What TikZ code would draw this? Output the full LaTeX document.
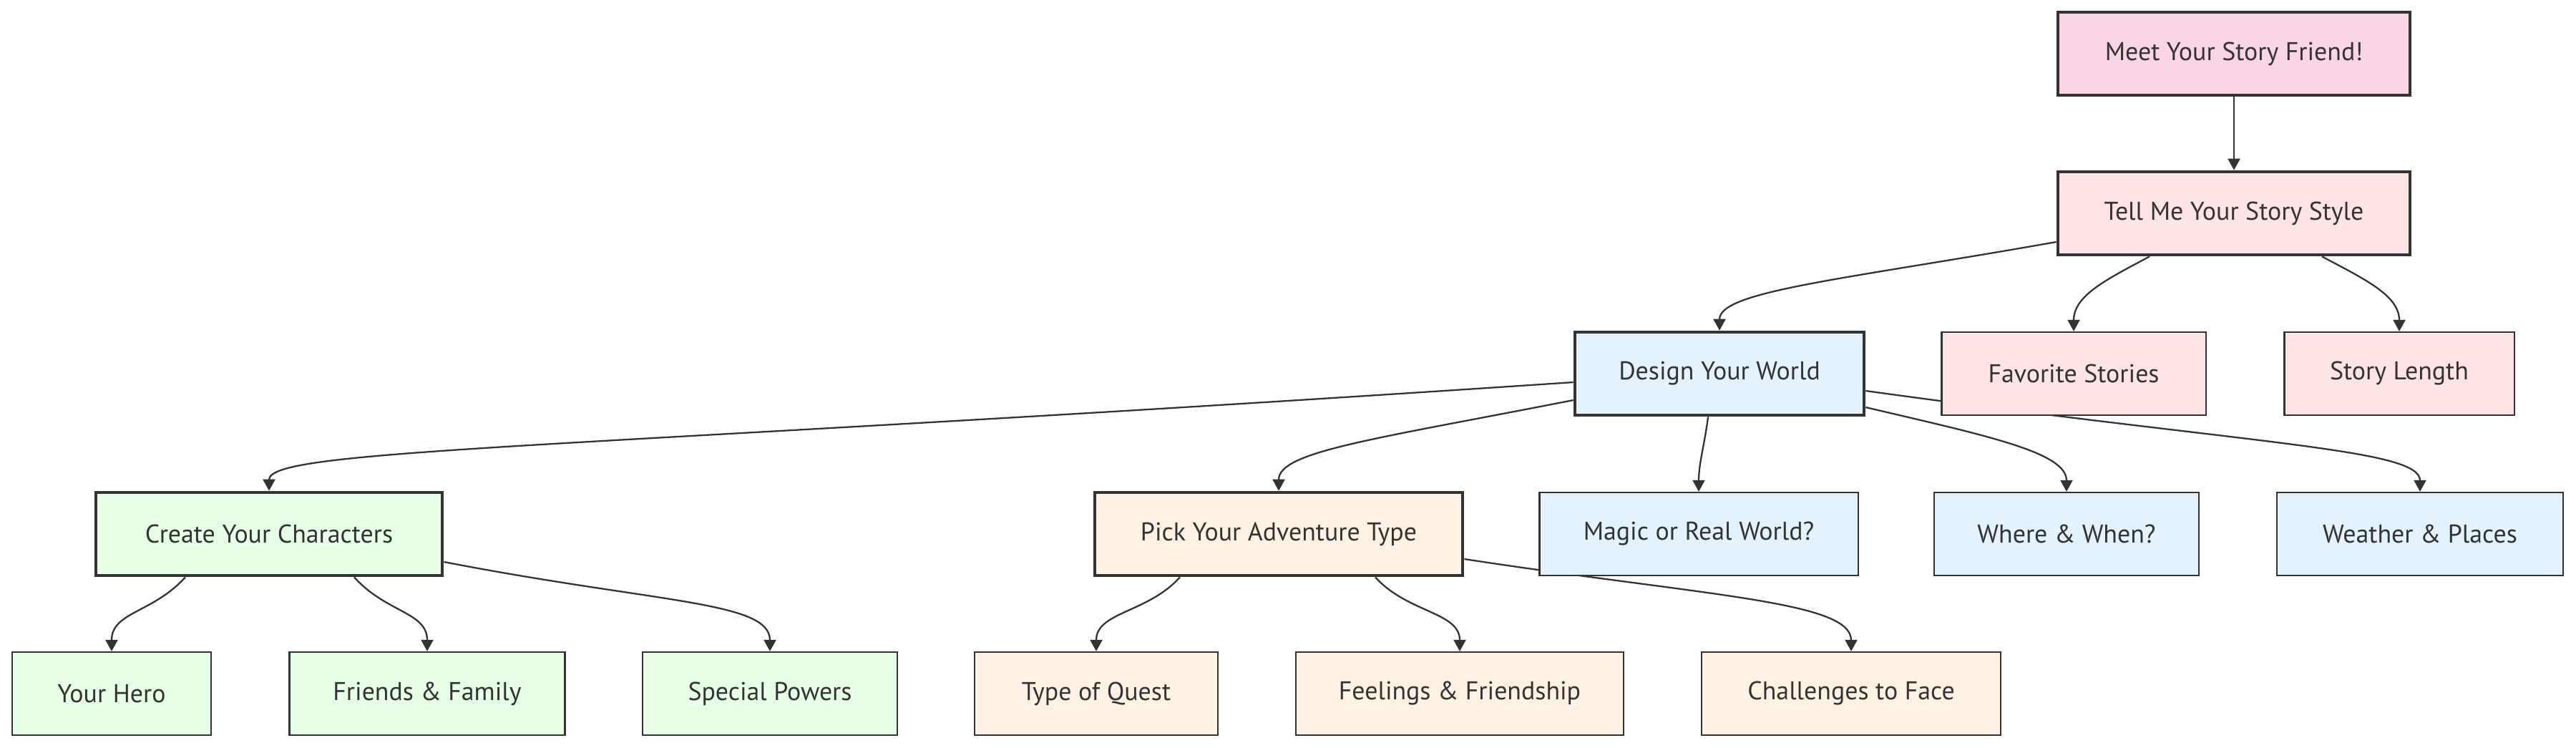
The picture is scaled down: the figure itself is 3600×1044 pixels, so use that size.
\documentclass[tikz,border=0pt]{standalone}
\usepackage{fontspec}
\setsansfont{PT Sans}
\usetikzlibrary{arrows.meta,backgrounds,calc}

\definecolor{inkgray}{HTML}{333333}
\definecolor{friendpink}{HTML}{F9D5E5}
\definecolor{stylepink}{HTML}{FFE4E6}
\definecolor{worldblue}{HTML}{E3F2FD}
\definecolor{herogreen}{HTML}{E6FFE6}
\definecolor{questpeach}{HTML}{FFF1E4}

\tikzset{
  storybox/.style={draw=inkgray, line width=0.65pt, text=inkgray, inner sep=0pt,
    minimum height=1.16cm, font=\sffamily\fontsize{10.2}{12}\selectfont},
  stepbox/.style={storybox, line width=1.3pt},
  link/.style={draw=inkgray, line width=0.65pt, -{Triangle[length=0.16cm,width=0.17cm]}},
}

\begin{document}
\begin{tikzpicture}[x=0.01cm, y=-0.01cm]
    \useasboundingbox (0,0) rectangle (3600,1044);

    %% Main steps
    \node[stepbox, fill=friendpink, minimum width=4.92cm] (meet) at (3122,75) {Meet Your Story Friend!};
    \node[stepbox, fill=stylepink, minimum width=4.92cm] (tell) at (3122,298) {Tell Me Your Story Style};
    \node[stepbox, fill=worldblue, minimum width=4.04cm] (design) at (2403,522) {Design Your World};
    \node[stepbox, fill=herogreen, minimum width=4.84cm] (create) at (376,746) {Create Your Characters};
    \node[stepbox, fill=questpeach, minimum width=5.14cm] (pick) at (1787,746) {Pick Your Adventure Type};

    %% Story style
    \node[storybox, fill=stylepink, minimum width=3.69cm] (favorite) at (2898,522) {Favorite Stories};
    \node[storybox, fill=stylepink, minimum width=3.21cm] (length) at (3353,522) {Story Length};

    %% World
    \node[storybox, fill=worldblue, minimum width=4.45cm] (magic) at (2374,746) {Magic or Real World?};
    \node[storybox, fill=worldblue, minimum width=3.70cm] (where) at (2888,746) {Where \& When?};
    \node[storybox, fill=worldblue, minimum width=4.00cm] (weather) at (3382,746) {Weather \& Places};

    %% Characters
    \node[storybox, fill=herogreen, minimum width=2.78cm] (hero) at (156,969) {Your Hero};
    \node[storybox, fill=herogreen, minimum width=3.85cm] (friends) at (597,969) {Friends \& Family};
    \node[storybox, fill=herogreen, minimum width=3.56cm] (powers) at (1076,969) {Special Powers};

    %% Adventure
    \node[storybox, fill=questpeach, minimum width=3.40cm] (quest) at (1532,969) {Type of Quest};
    \node[storybox, fill=questpeach, minimum width=4.58cm] (feelings) at (2040,969) {Feelings \& Friendship};
    \node[storybox, fill=questpeach, minimum width=4.18cm] (challenges) at (2587,969) {Challenges to Face};

    %% Connectors, behind the boxes
    \begin{scope}[on background layer]
        \draw[link] (meet) -- (tell);
        \draw[link] ($(tell.west)+(0,40)$) .. controls +(-300,53) and +(0,-55) .. (design.north);
        \draw[link] ($(tell.south)+(-118,0)$) .. controls +(-60,32) and +(0,-50) .. (favorite.north);
        \draw[link] ($(tell.south)+(123,0)$) .. controls +(60,32) and +(0,-50) .. (length.north);

        \draw[link] ($(design.west)+(0,12)$) .. controls +(-1400,94) and +(0,-60) .. (create.north);
        \draw[link] ($(design.west)+(0,37)$) .. controls +(-280,55) and +(0,-55) .. (pick.north);
        \draw[link] ($(design.south)+(-16,0)$) .. controls +(-5,40) and +(0,-40) .. (magic.north);
        \draw[link] ($(design.east)+(0,47)$) .. controls +(170,40) and +(0,-55) .. (where.north);
        \draw[link] ($(design.east)+(0,24)$) .. controls +(550,76) and +(0,-60) .. (weather.north);

        \draw[link] ($(create.south)+(-117,0)$) .. controls +(-45,50) and +(0,-55) .. (hero.north);
        \draw[link] ($(create.south)+(119,0)$) .. controls +(45,50) and +(0,-55) .. (friends.north);
        \draw[link] ($(create.east)+(0,39)$) .. controls +(300,58) and +(0,-70) .. (powers.north);

        \draw[link] ($(pick.south)+(-138,0)$) .. controls +(-45,50) and +(0,-55) .. (quest.north);
        \draw[link] ($(pick.south)+(135,0)$) .. controls +(45,50) and +(0,-55) .. (feelings.north);
        \draw[link] ($(pick.east)+(0,35)$) .. controls +(340,52) and +(0,-70) .. (challenges.north);
    \end{scope}
\end{tikzpicture}
\end{document}
